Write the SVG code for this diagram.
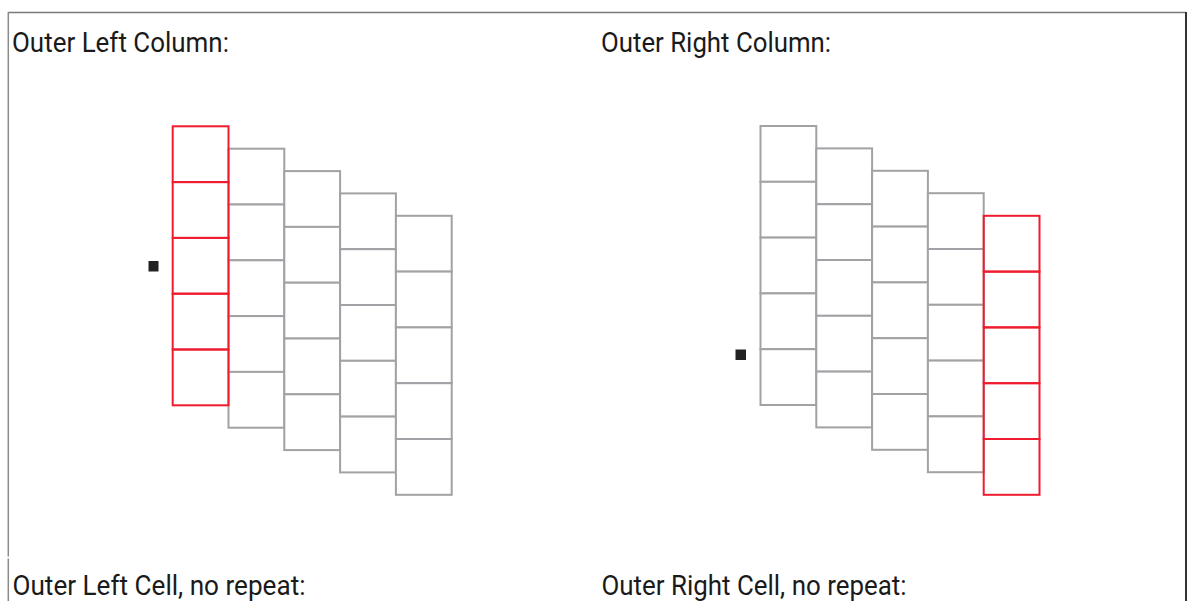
<svg xmlns="http://www.w3.org/2000/svg" xmlns:xlink="http://www.w3.org/1999/xlink" width="1187" height="601" viewBox="0 0 1187 601">
<style>
.lbl{font-family:Roboto,"Liberation Sans",sans-serif;font-size:27px;fill:#1a1a1a}
.g{fill:#fff;stroke:#a2a2a6;stroke-width:2}
.r{fill:none;stroke:#ee1c2e;stroke-width:2}
.dot{fill:#222}
</style>
<defs>
<g id="col">
<rect x="0" y="0" width="55.8" height="55.8"/>
<rect x="0" y="55.8" width="55.8" height="55.8"/>
<rect x="0" y="111.6" width="55.8" height="55.8"/>
<rect x="0" y="167.4" width="55.8" height="55.8"/>
<rect x="0" y="223.2" width="55.8" height="55.8"/>
</g>
</defs>
<rect width="1187" height="601" fill="#fff"/>
<g id="frame" fill="none">
<line x1="8" y1="12.5" x2="1186" y2="12.5" stroke="#7a7a7a" stroke-width="1.5"/>
<line x1="8.3" y1="12" x2="8.3" y2="556.5" stroke="#8a8a8a" stroke-width="1.5"/>
<line x1="8.3" y1="558.5" x2="8.3" y2="601" stroke="#8a8a8a" stroke-width="1.5"/>
<line x1="1186" y1="12" x2="1186" y2="601" stroke="#333" stroke-width="2"/>
</g>
<text class="lbl" x="12" y="52" textLength="217" lengthAdjust="spacingAndGlyphs">Outer Left Column:</text>
<text class="lbl" x="601" y="52" textLength="230" lengthAdjust="spacingAndGlyphs">Outer Right Column:</text>
<text class="lbl" x="12.5" y="595" textLength="293" lengthAdjust="spacingAndGlyphs">Outer Left Cell, no repeat:</text>
<text class="lbl" x="601.5" y="595" textLength="305" lengthAdjust="spacingAndGlyphs">Outer Right Cell, no repeat:</text>
<g id="left-diagram">
<g class="g">
<use xlink:href="#col" x="228.5" y="148.7"/>
<use xlink:href="#col" x="284.3" y="171.1"/>
<use xlink:href="#col" x="340.1" y="193.4"/>
<use xlink:href="#col" x="395.9" y="215.8"/>
</g>
<g class="r"><use xlink:href="#col" x="172.7" y="126.3"/></g>
<rect class="dot" x="148.5" y="261" width="10" height="10.5"/>
</g>
<g id="right-diagram">
<g class="g">
<use xlink:href="#col" x="760.5" y="126"/>
<use xlink:href="#col" x="816.3" y="148.4"/>
<use xlink:href="#col" x="872.1" y="170.8"/>
<use xlink:href="#col" x="927.9" y="193.2"/>
</g>
<g class="r"><use xlink:href="#col" x="983.7" y="215.8"/></g>
<rect class="dot" x="735.5" y="349.5" width="10.5" height="10.5"/>
</g>
</svg>
